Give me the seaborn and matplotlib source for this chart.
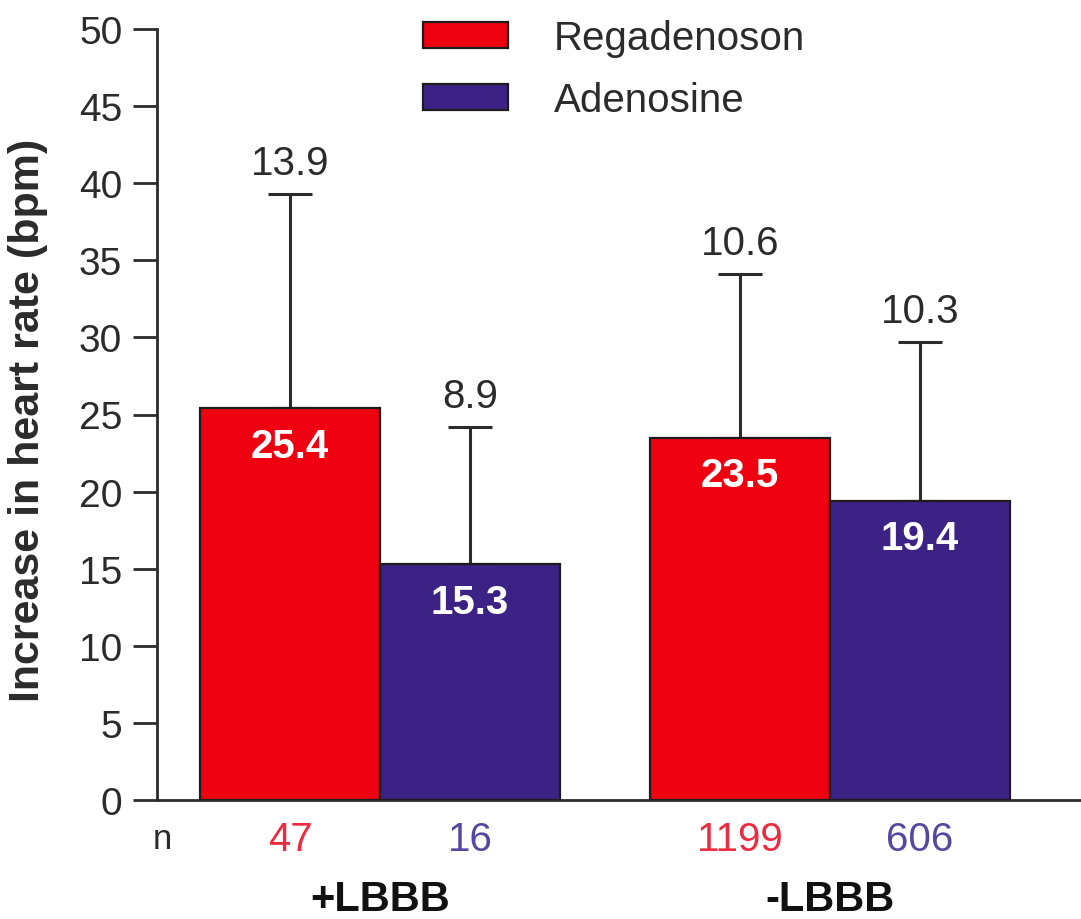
import numpy as np
import pandas as pd
import matplotlib.pyplot as plt
import seaborn as sns

# ------------------------
# Data
# ------------------------
groups = ['+LBBB', '-LBBB']
drugs = ['Regadenoson', 'Adenosine']
regadenoson_mean = [25.4, 23.5]
adenosine_mean = [15.3, 19.4]
regadenoson_sd = [13.9, 10.6]
adenosine_sd = [8.9, 10.3]
regadenoson_n = [47, 1199]
adenosine_n = [16, 606]

bar_colors = ['#EE0010', '#3D2286']
n_colors = ['#EC2A40', '#55489E']

df = pd.DataFrame({
    'group': groups * 2,
    'drug': [drugs[0]] * 2 + [drugs[1]] * 2,
    'mean': regadenoson_mean + adenosine_mean,
    'sd': regadenoson_sd + adenosine_sd,
    'n': regadenoson_n + adenosine_n,
})

# ------------------------
# Plotting
# ------------------------
sns.set_style('white')
plt.rcParams['font.family'] = ['Liberation Sans', 'DejaVu Sans']
txt = '#2b2b2b'
fs = 28

fig = plt.figure(figsize=(10.81, 9.2), dpi=100)
ax = fig.add_axes([157 / 1081, 119 / 920, 924 / 1081, 771 / 920])

sns.barplot(data=df, x='group', y='mean', hue='drug', hue_order=drugs,
            order=groups, palette=bar_colors, saturation=1, width=0.8,
            edgecolor='#1c1c1c', linewidth=1.6, errorbar=None, ax=ax,
            zorder=3)

# one-sided error bars (SD) with labels
offsets = [-0.2, 0.2]
for j, drug in enumerate(drugs):
    sub = df[df['drug'] == drug].set_index('group').loc[groups]
    xs = np.arange(len(groups)) + offsets[j]
    ax.errorbar(xs, sub['mean'], yerr=[np.zeros(len(groups)), sub['sd']],
                fmt='none', ecolor=txt, elinewidth=2.2, capsize=16,
                capthick=2.2, zorder=2)
    for x, m, s, n in zip(xs, sub['mean'], sub['sd'], sub['n']):
        ax.annotate(f'{s:.1f}', (x, m + s), xytext=(0, 14.5),
                    textcoords='offset points', ha='center', va='baseline',
                    fontsize=fs + 1, color=txt)
        ax.annotate(f'{m:.1f}', (x, m), xytext=(0, -27),
                    textcoords='offset points', ha='center', va='center',
                    fontsize=fs + 1, color='white', fontweight='bold',
                    zorder=4)
        ax.annotate(f'{n}', (x, -0.05), xycoords=('data', 'axes fraction'),
                    ha='center', va='center', fontsize=fs + 1,
                    color=n_colors[j])

ax.annotate('n', (0.006, -0.05), xycoords='axes fraction', ha='center',
            va='center', fontsize=fs - 3, color=txt)

# group names under the n row
for i, g in enumerate(groups):
    ax.annotate(g, (i, -0.143), xycoords=('data', 'axes fraction'),
                ha='center', va='baseline', fontsize=fs + 2,
                fontweight='bold', color='#111111')

ax.set_ylim(0, 50)
ax.set_xlim(-0.496, 1.558)
ax.set_yticks(range(0, 51, 5))
ax.set_xlabel('')
ax.set_ylabel('Increase in heart rate (bpm)', fontsize=fs + 3,
              fontweight='bold', color=txt)
ax.yaxis.set_label_coords(-0.118, 0.494)
ax.tick_params(axis='y', length=17, width=2, color=txt, labelsize=fs,
               labelcolor=txt, pad=8, left=True)
ax.tick_params(axis='x', length=0, labelbottom=False)

sns.despine(ax=ax)
for side in ['left', 'bottom']:
    ax.spines[side].set_linewidth(2)
    ax.spines[side].set_color(txt)

# legend
handles, labels = ax.get_legend_handles_labels()
ax.legend(handles, labels, loc='upper left', bbox_to_anchor=(423 / 1081, 0.978),
          bbox_transform=fig.transFigure, frameon=False, fontsize=fs + 1,
          handlelength=2.1, handleheight=0.6, handletextpad=1.15,
          labelspacing=0.6, borderpad=0, borderaxespad=0,
          labelcolor=txt)

plt.savefig('out.png', dpi=100)
plt.close('all')
